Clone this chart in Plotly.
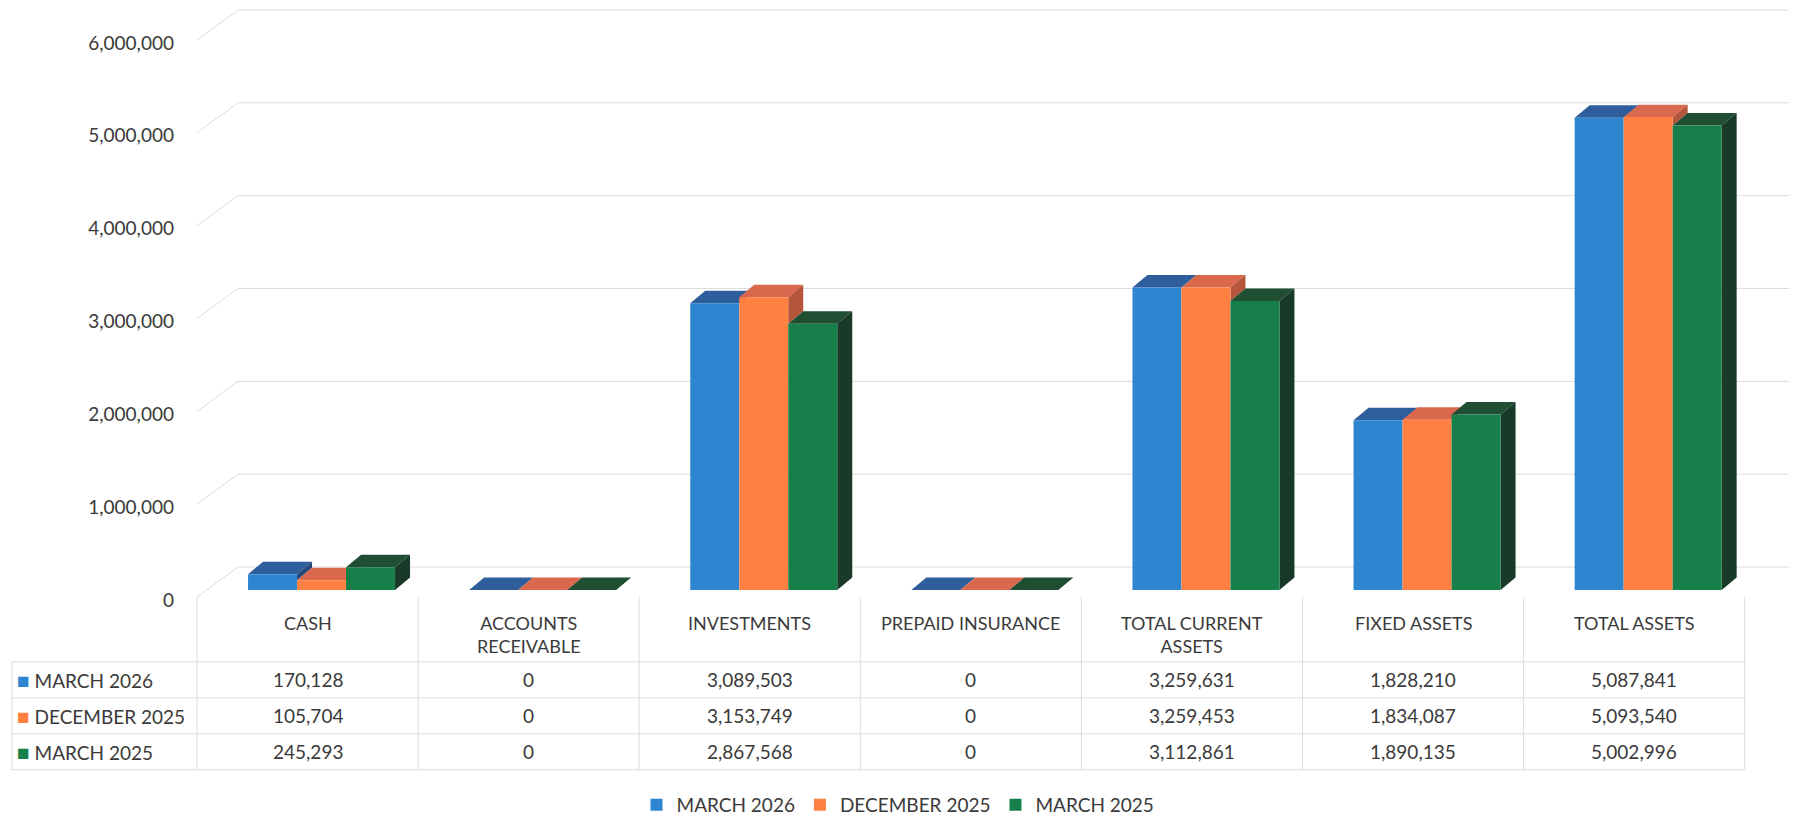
import plotly.graph_objects as go

# ---------------- data ----------------
categories = ["CASH", "ACCOUNTS RECEIVABLE", "INVESTMENTS", "PREPAID INSURANCE",
              "TOTAL CURRENT ASSETS", "FIXED ASSETS", "TOTAL ASSETS"]
header_labels = ["CASH", "ACCOUNTS<br>RECEIVABLE", "INVESTMENTS", "PREPAID INSURANCE",
                 "TOTAL CURRENT<br>ASSETS", "FIXED ASSETS", "TOTAL ASSETS"]
series_names = ["MARCH 2026", "DECEMBER 2025", "MARCH 2025"]
march_2026 = [170128, 0, 3089503, 0, 3259631, 1828210, 5087841]
december_2025 = [105704, 0, 3153749, 0, 3259453, 1834087, 5093540]
march_2025 = [245293, 0, 2867568, 0, 3112861, 1890135, 5002996]
y_ticks = [0, 1000000, 2000000, 3000000, 4000000, 5000000, 6000000]

series_values = [march_2026, december_2025, march_2025]

# ---------------- styles ----------------
front_colors = ["#2E86D1", "#FF8040", "#17804A"]
top_colors = ["#2E5E9C", "#D9684C", "#1F4E33"]
side_colors = ["#24497A", "#B5553C", "#1A3A29"]
text_color = "#3a3a3a"
grid_color = "#dcdcdc"
FONT = "Lato"

# page geometry (the page body adds an 8px margin around the figure)
BODY_M = 8
PAGE_W, PAGE_H = 1797, 824
W, H = PAGE_W - BODY_M, PAGE_H - BODY_M
PLOT_L, PLOT_R, PLOT_T, PLOT_B = 197, 1797, 8, 600   # page pixels
PX_PER_CAT = 221.1
PX_PER_Y = 93.0 / 1e6
ZERO_PX = 591

x_range = [-0.5, -0.5 + (PLOT_R - PLOT_L) / PX_PER_CAT]
y_range = [-(PLOT_B - ZERO_PX) / PX_PER_Y, (ZERO_PX - PLOT_T) / PX_PER_Y]

bar_w = 49 / PX_PER_CAT
group_off = 14 / PX_PER_CAT
depth_x = 15 / PX_PER_CAT
depth_y = 12.5 / PX_PER_Y

def px(p):
    return (p - PLOT_L) / (PLOT_R - PLOT_L)

def py(p):
    return (PLOT_B - p) / (PLOT_B - PLOT_T)

fig = go.Figure()

n = len(categories)
# top and side faces (pseudo 3D)
for k, vals in enumerate(series_values):
    tx, ty, sx, sy = [], [], [], []
    for i in range(n):
        v = vals[i]
        x0 = i + group_off + (k - 1.5) * bar_w
        x1 = x0 + bar_w
        tx += [x0, x1, x1 + depth_x, x0 + depth_x, x0, None]
        ty += [v, v, v + depth_y, v + depth_y, v, None]
        if k < len(series_values) - 1:
            lo = min(v, series_values[k + 1][i])
        else:
            lo = 0
        if v > lo:
            sx += [x1, x1 + depth_x, x1 + depth_x, x1, x1, None]
            sy += [lo, lo + depth_y, v + depth_y, v, lo, None]
    fig.add_trace(go.Scatter(x=tx, y=ty, mode="lines", fill="toself",
                             fillcolor=top_colors[k], line=dict(width=0, color=top_colors[k]),
                             showlegend=False, hoverinfo="skip", xaxis="x", yaxis="y"))
    if sx:
        fig.add_trace(go.Scatter(x=sx, y=sy, mode="lines", fill="toself",
                                 fillcolor=side_colors[k], line=dict(width=0, color=side_colors[k]),
                                 showlegend=False, hoverinfo="skip", xaxis="x", yaxis="y"))

# front faces as real bars on an overlaying axis (drawn above)
for k, vals in enumerate(series_values):
    fig.add_trace(go.Bar(
        x=[i + group_off + (k - 1) * bar_w for i in range(n)],
        y=vals, width=bar_w, name=series_names[k],
        marker=dict(color=front_colors[k], line=dict(width=0)),
        xaxis="x2", yaxis="y2",
    ))

shapes = []
# back wall gridlines and left wall diagonals
back_dy = 23 / PX_PER_Y
front_dy = 7 / PX_PER_Y
for v in y_ticks:
    shapes.append(dict(type="line", xref="paper", yref="y", x0=px(238), x1=px(1797),
                       y0=v + back_dy, y1=v + back_dy, line=dict(color=grid_color, width=1),
                       layer="below"))
    shapes.append(dict(type="line", xref="paper", yref="y", x0=px(197), x1=px(238),
                       y0=v - front_dy, y1=v + back_dy, line=dict(color=grid_color, width=1),
                       layer="below"))

# data table grid
tbl_top, tbl_hdr, tbl_bottom = 598, 663, 771
row_lines = [663, 699, 735, 771]
for j in range(n + 1):
    xp = PLOT_L + PX_PER_CAT * j
    shapes.append(dict(type="line", xref="paper", yref="paper", x0=px(xp), x1=px(xp),
                       y0=py(tbl_top), y1=py(tbl_bottom), line=dict(color=grid_color, width=1)))
shapes.append(dict(type="line", xref="paper", yref="paper", x0=px(12), x1=px(12),
                   y0=py(tbl_hdr), y1=py(tbl_bottom), line=dict(color=grid_color, width=1)))
for rl in row_lines:
    shapes.append(dict(type="line", xref="paper", yref="paper", x0=px(12),
                       x1=px(PLOT_L + PX_PER_CAT * n), y0=py(rl), y1=py(rl),
                       line=dict(color=grid_color, width=1)))

annotations = []
for i, lab in enumerate(header_labels):
    annotations.append(dict(xref="x", yref="paper", x=i, y=py(611), yanchor="top",
                            xanchor="center", text=lab, showarrow=False,
                            font=dict(family=FONT, size=18, color=text_color)))
row_centers = [(row_lines[r] + row_lines[r + 1]) / 2 for r in range(3)]
for k, vals in enumerate(series_values):
    yc = py(row_centers[k])
    annotations.append(dict(xref="paper", yref="paper", x=px(15), y=yc, xanchor="left",
                            yanchor="middle", showarrow=False,
                            text=f'<span style="color:{front_colors[k]};font-size:21px">■</span> {series_names[k]}',
                            font=dict(family=FONT, size=19, color=text_color)))
    for i, v in enumerate(vals):
        annotations.append(dict(xref="x", yref="paper", x=i, y=yc, xanchor="center",
                                yanchor="middle", showarrow=False, text=f"{v:,}",
                                font=dict(family=FONT, size=19, color=text_color)))

fig.update_layout(
    width=W, height=H,
    margin=dict(l=PLOT_L - BODY_M, r=W - (PLOT_R - BODY_M), t=PLOT_T - BODY_M,
                b=H - (PLOT_B - BODY_M)),
    paper_bgcolor="white", plot_bgcolor="rgba(0,0,0,0)",
    barmode="overlay",
    font=dict(family=FONT, size=19, color=text_color),
    xaxis=dict(range=x_range, visible=False, fixedrange=True),
    yaxis=dict(range=y_range, tickvals=y_ticks, tickformat=",", showgrid=False,
               zeroline=False, showline=False, ticks="", ticklabelshift=10,
               ticklabelstandoff=22, tickfont=dict(family=FONT, size=19, color=text_color)),
    xaxis2=dict(range=x_range, visible=False, overlaying="x", anchor="y2"),
    yaxis2=dict(range=y_range, visible=False, overlaying="y", anchor="x2"),
    shapes=shapes,
    annotations=annotations,
    showlegend=True,
    legend=dict(orientation="h", x=px(898), xanchor="center", y=py(807), yanchor="middle",
                font=dict(family=FONT, size=19, color=text_color), traceorder="normal",
                itemwidth=30),
)

fig.write_html("out.html")
